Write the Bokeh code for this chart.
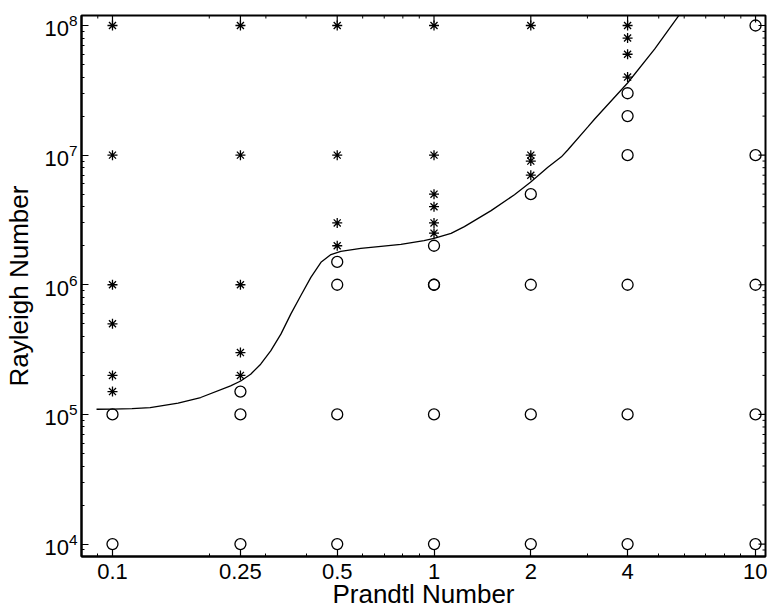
import math
from bokeh.plotting import figure
from bokeh.models import Range1d, FixedTicker, CustomJSTickFormatter
from bokeh.embed import file_html
from bokeh.resources import INLINE

# Stable (open circle) runs
circle_pr = [0.1, 0.1,
             0.25, 0.25, 0.25,
             0.5, 0.5, 0.5, 0.5,
             1, 1, 1, 1, 1,
             2, 2, 2, 2,
             4, 4, 4, 4, 4, 4,
             10, 10, 10, 10, 10]
circle_ra = [1e4, 1e5,
             1e4, 1e5, 1.5e5,
             1e4, 1e5, 1e6, 1.5e6,
             1e4, 1e5, 1e6, 1e6, 2e6,
             1e4, 1e5, 1e6, 5e6,
             1e4, 1e5, 1e6, 1e7, 2e7, 3e7,
             1e4, 1e5, 1e6, 1e7, 1e8]

# Unstable (asterisk) runs
star_pr = [0.1, 0.1, 0.1, 0.1, 0.1, 0.1,
           0.25, 0.25, 0.25, 0.25, 0.25,
           0.5, 0.5, 0.5, 0.5,
           1, 1, 1, 1, 1, 1,
           2, 2, 2, 2,
           4, 4, 4, 4]
star_ra = [1.5e5, 2e5, 5e5, 1e6, 1e7, 1e8,
           2e5, 3e5, 1e6, 1e7, 1e8,
           2e6, 3e6, 1e7, 1e8,
           2.5e6, 3e6, 4e6, 5e6, 1e7, 1e8,
           7e6, 9e6, 1e7, 1e8,
           4e7, 6e7, 8e7, 1e8]

# Boundary curve
curve_pr = [0.0892, 0.1, 0.115, 0.131, 0.16, 0.188, 0.233, 0.2505, 0.269, 0.289, 0.3105,
            0.334, 0.3585, 0.385, 0.414, 0.445, 0.478, 0.513, 0.592, 0.684,
            0.789, 0.931, 1.0, 1.13, 1.243, 1.505, 1.779, 1.995, 2.26, 2.49,
            2.61, 3.01, 3.16, 4.0, 4.86, 5.77]
curve_ra = [1.096e5, 1.10e5, 1.11e5, 1.13e5, 1.22e5, 1.35e5, 1.66e5, 1.81e5, 2.04e5, 2.44e5, 3.09e5,
            4.16e5, 5.94e5, 8.23e5, 1.14e6, 1.49e6, 1.71e6, 1.81e6, 1.91e6, 1.98e6,
            2.05e6, 2.19e6, 2.28e6, 2.49e6, 2.81e6, 3.73e6, 4.95e6, 6.17e6, 8.05e6, 9.7e6,
            1.1e7, 1.65e7, 1.9e7, 3.6e7, 6.6e7, 1.19e8]

x_major = [0.1, 0.25, 0.5, 1, 2, 4, 10]
x_minor = [0.09, 0.2, 0.3, 0.4, 0.6, 0.7, 0.8, 0.9, 3, 5, 6, 7, 8, 9]
y_major = [1e4, 1e5, 1e6, 1e7, 1e8]
y_minor = [m * 10 ** e for e in range(3, 8) for m in range(2, 10)]

FONT = "Liberation Sans"

x_range = Range1d(0.0801, 10.74)
y_range = Range1d(8017, 1.194e8)

p = figure(x_axis_type="log", y_axis_type="log",
           x_range=x_range, y_range=y_range,
           frame_width=684, frame_height=541,
           min_border_left=81, min_border_top=15, min_border_right=2, min_border_bottom=10,
           output_backend="svg", toolbar_location=None,
           background_fill_color="white", border_fill_color="white")
p.outline_line_color = "black"
p.outline_line_width = 2
p.xgrid.visible = False
p.ygrid.visible = False

xt = FixedTicker(ticks=x_major, minor_ticks=x_minor)
yt = FixedTicker(ticks=y_major, minor_ticks=y_minor)

for ax in (p.xaxis[0], p.yaxis[0]):
    ax.axis_line_width = 2
    ax.axis_line_color = "black"
    ax.major_tick_in = 7
    ax.major_tick_out = 0
    ax.minor_tick_in = 3
    ax.minor_tick_out = 0
    ax.major_tick_line_width = 1.2
    ax.minor_tick_line_width = 1
    ax.major_tick_line_color = "black"
    ax.minor_tick_line_color = "black"
    ax.major_label_text_font = FONT
    ax.major_label_text_color = "black"
    ax.axis_label_text_font = FONT
    ax.axis_label_text_font_style = "normal"
    ax.axis_label_text_font_size = "26px"
    ax.axis_label_text_color = "black"

xa = p.xaxis[0]
xa.ticker = xt
xa.formatter = CustomJSTickFormatter(code="return tick.toString();")
xa.axis_label = "Prandtl Number"
xa.major_label_text_font_size = "22px"
xa.major_label_standoff = 7
xa.axis_label_standoff = -3

ya = p.yaxis[0]
ya.ticker = yt
ya.axis_label = "Rayleigh Number"
ya.major_label_text_font_size = "22px"
ya.major_label_standoff = 4
ya.axis_label_standoff = 7

# mirrored inward ticks on the top and right frame edges
p.ray(x=x_major, y=[y_range.end] * len(x_major), length=7, angle=-math.pi / 2,
      length_units="screen", line_color="black", line_width=1.2)
p.ray(x=x_minor, y=[y_range.end] * len(x_minor), length=3, angle=-math.pi / 2,
      length_units="screen", line_color="black", line_width=1)
p.ray(x=[x_range.end] * len(y_major), y=y_major, length=7, angle=math.pi,
      length_units="screen", line_color="black", line_width=1.2)
p.ray(x=[x_range.end] * len(y_minor), y=y_minor, length=3, angle=math.pi,
      length_units="screen", line_color="black", line_width=1)

p.line(curve_pr, curve_ra, line_color="black", line_width=1.3)
p.scatter(circle_pr, circle_ra, marker="circle", size=11, fill_color=None,
          line_color="black", line_width=1.3)
p.scatter(star_pr, star_ra, marker="asterisk", size=10,
          line_color="black", line_width=1.3)

open("out.html", "w").write(file_html(p, INLINE))
